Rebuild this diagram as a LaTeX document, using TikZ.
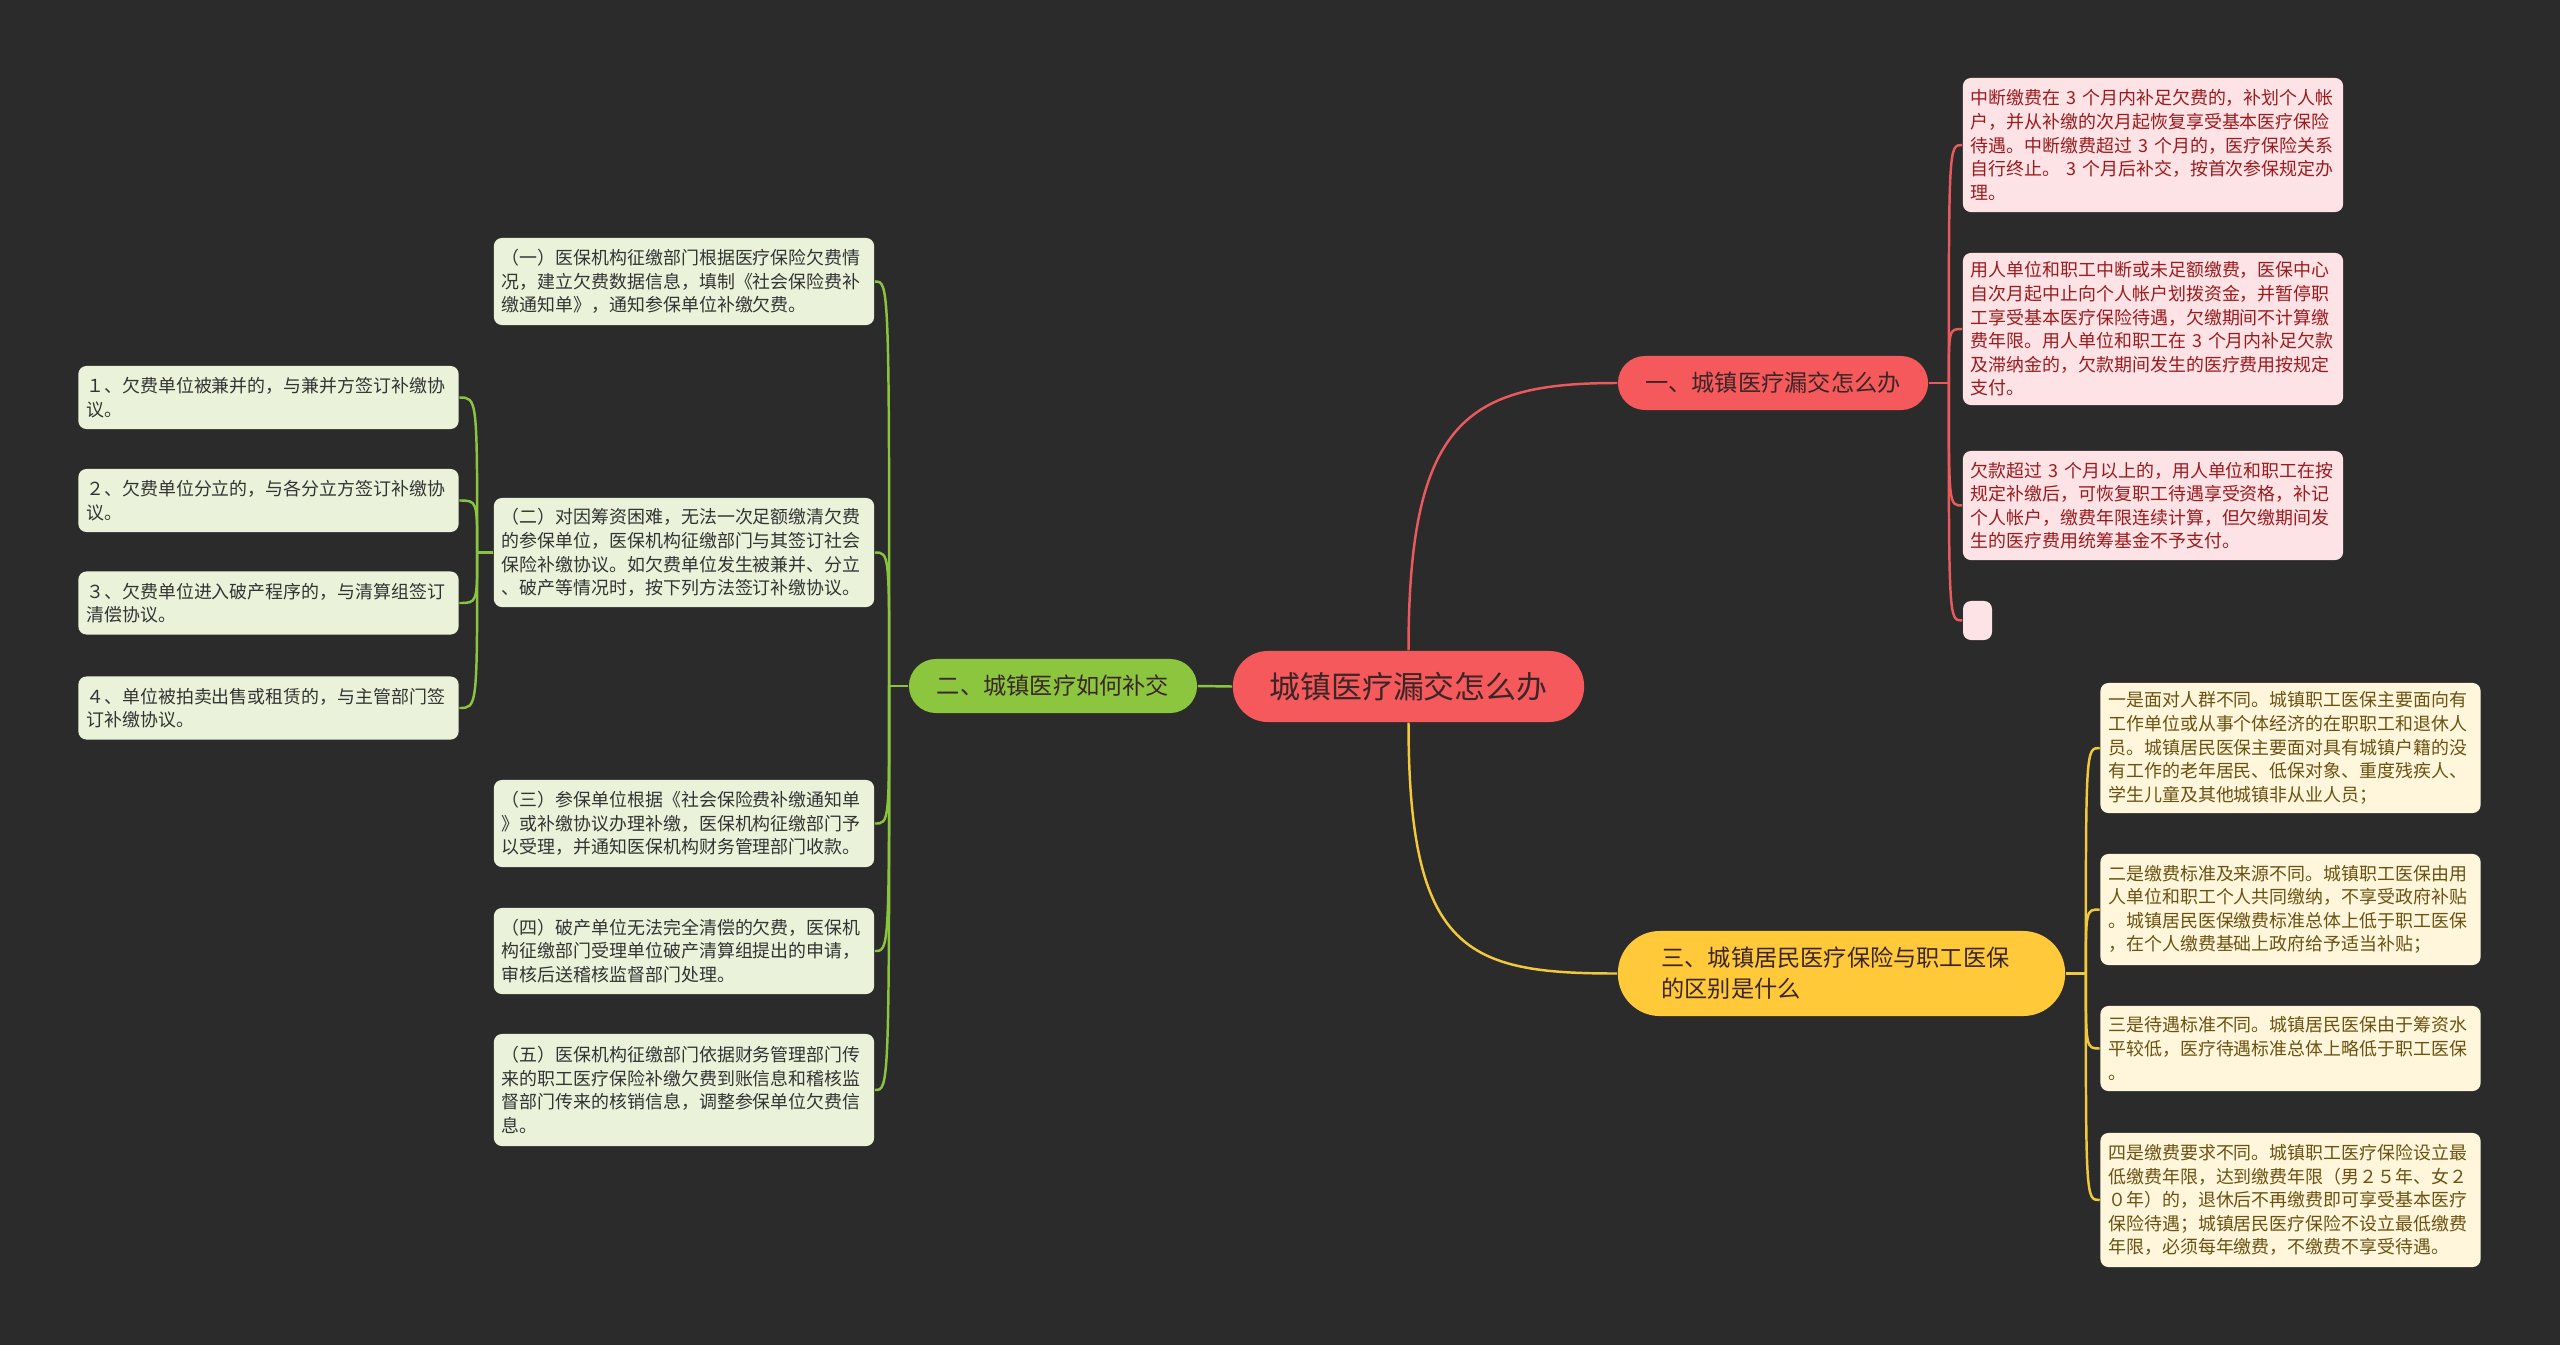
\documentclass[tikz,border=0pt]{standalone}
\usepackage{fontspec}
\setmainfont{Noto Sans CJK SC}
\usetikzlibrary{calc}
\definecolor{bgdark}{HTML}{2B2B2B}
\definecolor{topicred}{HTML}{F5595C}
\definecolor{topictext}{HTML}{3A2626}
\definecolor{linkred}{HTML}{E85A5C}
\definecolor{leafred}{HTML}{FDE3E5}
\definecolor{textred}{HTML}{9A1B1E}
\definecolor{topicyellow}{HTML}{FFC93A}
\definecolor{linkyellow}{HTML}{F2C93C}
\definecolor{leafyellow}{HTML}{FFF6DB}
\definecolor{textyellow}{HTML}{6B5212}
\definecolor{topicgreen}{HTML}{8CC63F}
\definecolor{linkgreen}{HTML}{8BC53F}
\definecolor{leafgreen}{HTML}{EAF3DA}
\definecolor{textgreen}{HTML}{333333}
\tikzset{
  root topic/.style={
    fill=topicred,
    text=topictext,
    rounded corners=0.35cm,
    inner sep=0pt,
    minimum width=3.51cm,
    minimum height=0.71cm,
    font=\fontsize{8.8}{10}\selectfont
  },
  main topic/.style={
    rounded corners=0.27cm,
    inner sep=0pt,
    minimum height=0.54cm,
    text=topictext,
    font=\fontsize{6.6}{8.8}\selectfont
  },
  leaf/.style={
    rounded corners=0.08cm,
    text width=3.64cm,
    inner xsep=0.08cm,
    inner ysep=0pt,
    align=left,
    font=\fontsize{5.1}{6.7}\selectfont
  },
  red leaf/.style={leaf, fill=leafred, text=textred},
  yellow leaf/.style={leaf, fill=leafyellow, text=textyellow},
  green leaf/.style={leaf, fill=leafgreen, text=textgreen},
  red link/.style={draw=linkred, line width=0.7pt},
  yellow link/.style={draw=linkyellow, line width=0.7pt},
  green link/.style={draw=linkgreen, line width=0.7pt}
}

\begin{document}
\begin{tikzpicture}[x=0.01cm, y=-0.01cm]

  %% ---- 背景 ----
  \useasboundingbox (0,0) rectangle (2560,1345);
  \fill[bgdark] (0,0) rectangle (2560,1345);

  %% ---- 中心主题 ----
  \node[root topic] (root) at (1408.5, 686.5) {城镇医疗漏交怎么办};

  %% ---- 一级主题 ----
  \node[main topic, fill=topicred, minimum width=3.10cm] (m1) at (1773, 383)
      {一、城镇医疗漏交怎么办};
  \node[main topic, fill=topicgreen, minimum width=2.88cm] (m2) at (1053, 686)
      {二、城镇医疗如何补交};
  \node[main topic, fill=topicyellow, rounded corners=0.42cm, minimum height=0.85cm,
        text width=3.6cm, inner xsep=0.435cm, align=left] (m3) at (1841.5, 973.5)
      {三、城镇居民医疗保险与职工医保\\的区别是什么};

  %% ---- 一、漏交 ----
  \node[red leaf, minimum height=1.34cm] (l1) at (2153, 145)
      {中断缴费在 3 个月内补足欠费的，补划个人帐\\户，并从补缴的次月起恢复享受基本医疗保险\\待遇。中断缴费超过 3 个月的，医疗保险关系\\自行终止。 3 个月后补交，按首次参保规定办\\理。};
  \node[red leaf, minimum height=1.52cm] (l2) at (2153, 329)
      {用人单位和职工中断或未足额缴费，医保中心\\自次月起中止向个人帐户划拨资金，并暂停职\\工享受基本医疗保险待遇，欠缴期间不计算缴\\费年限。用人单位和职工在 3 个月内补足欠款\\及滞纳金的，欠款期间发生的医疗费用按规定\\支付。};
  \node[red leaf, minimum height=1.09cm] (l3) at (2153, 505.5)
      {欠款超过 3 个月以上的，用人单位和职工在按\\规定补缴后，可恢复职工待遇享受资格，补记\\个人帐户，缴费年限连续计算，但欠缴期间发\\生的医疗费用统筹基金不予支付。};
  \node[fill=leafred, rounded corners=0.08cm, minimum width=0.29cm,
        minimum height=0.39cm, inner sep=0pt] (l4) at (1977.5, 620.5) {};

  %% ---- 三、区别 ----
  \node[yellow leaf, minimum height=1.30cm] (y1) at (2290.5, 748)
      {一是面对人群不同。城镇职工医保主要面向有\\工作单位或从事个体经济的在职职工和退休人\\员。城镇居民医保主要面对具有城镇户籍的没\\有工作的老年居民、低保对象、重度残疾人、\\学生儿童及其他城镇非从业人员；};
  \node[yellow leaf, minimum height=1.11cm] (y2) at (2290.5, 909.5)
      {二是缴费标准及来源不同。城镇职工医保由用\\人单位和职工个人共同缴纳，不享受政府补贴\\。城镇居民医保缴费标准总体上低于职工医保\\，在个人缴费基础上政府给予适当补贴；};
  \node[yellow leaf, minimum height=0.85cm] (y3) at (2290.5, 1048.5)
      {三是待遇标准不同。城镇居民医保由于筹资水\\平较低，医疗待遇标准总体上略低于职工医保\\。};
  \node[yellow leaf, minimum height=1.34cm] (y4) at (2290.5, 1200)
      {四是缴费要求不同。城镇职工医疗保险设立最\\低缴费年限，达到缴费年限（男２５年、女２\\０年）的，退休后不再缴费即可享受基本医疗\\保险待遇；城镇居民医疗保险不设立最低缴费\\年限，必须每年缴费，不缴费不享受待遇。};

  %% ---- 二、补交 ----
  \node[green leaf, minimum height=0.87cm] (g1) at (684, 281.5)
      {（一）医保机构征缴部门根据医疗保险欠费情\\况，建立欠费数据信息，填制《社会保险费补\\缴通知单》，通知参保单位补缴欠费。};
  \node[green leaf, minimum height=1.09cm] (g2) at (684, 552.5)
      {（二）对因筹资困难，无法一次足额缴清欠费\\的参保单位，医保机构征缴部门与其签订社会\\保险补缴协议。如欠费单位发生被兼并、分立\\、破产等情况时，按下列方法签订补缴协议。};
  \node[green leaf, minimum height=0.87cm] (g3) at (684, 823.5)
      {（三）参保单位根据《社会保险费补缴通知单\\》或补缴协议办理补缴，医保机构征缴部门予\\以受理，并通知医保机构财务管理部门收款。};
  \node[green leaf, minimum height=0.86cm] (g4) at (684, 951)
      {（四）破产单位无法完全清偿的欠费，医保机\\构征缴部门受理单位破产清算组提出的申请，\\审核后送稽核监督部门处理。};
  \node[green leaf, minimum height=1.12cm] (g5) at (684, 1090)
      {（五）医保机构征缴部门依据财务管理部门传\\来的职工医疗保险补缴欠费到账信息和稽核监\\督部门传来的核销信息，调整参保单位欠费信\\息。};

  % （二）下的四种情况
  \node[green leaf, minimum height=0.63cm] (h1) at (268.5, 397.5)
      {１、欠费单位被兼并的，与兼并方签订补缴协\\议。};
  \node[green leaf, minimum height=0.63cm] (h2) at (268.5, 500.5)
      {２、欠费单位分立的，与各分立方签订补缴协\\议。};
  \node[green leaf, minimum height=0.63cm] (h3) at (268.5, 603)
      {３、欠费单位进入破产程序的，与清算组签订\\清偿协议。};
  \node[green leaf, minimum height=0.63cm] (h4) at (268.5, 708)
      {４、单位被拍卖出售或租赁的，与主管部门签\\订补缴协议。};

  %% ---- 连线 ----
  \draw[red link] (root.north) .. controls +(0,-230) and +(-150,0) .. (m1.west);
  \draw[yellow link] (root.south) .. controls +(0,230) and +(-150,0) .. (m3.west);
  \draw[green link] (root.west) -- (m2.east);

  \draw[red link] (m1.east) -- ++(20,0) coordinate (rtrunk);
  \foreach \leaf in {l1, l2, l3, l4}
    \draw[red link] (rtrunk) .. controls (rtrunk |- \leaf.west) .. (\leaf.west);

  \draw[yellow link] (m3.east) -- ++(20,0) coordinate (ytrunk);
  \foreach \leaf in {y1, y2, y3, y4}
    \draw[yellow link] (ytrunk) .. controls (ytrunk |- \leaf.west) .. (\leaf.west);

  \draw[green link] (m2.west) -- ++(-19,0) coordinate (gtrunk);
  \foreach \leaf in {g1, g2, g3, g4, g5}
    \draw[green link] (gtrunk) .. controls (gtrunk |- \leaf.east) .. (\leaf.east);

  \draw[green link] (g2.west) -- ++(-16,0) coordinate (htrunk);
  \foreach \leaf in {h1, h2, h3, h4}
    \draw[green link] (htrunk) .. controls (htrunk |- \leaf.east) .. (\leaf.east);

\end{tikzpicture}
\end{document}
